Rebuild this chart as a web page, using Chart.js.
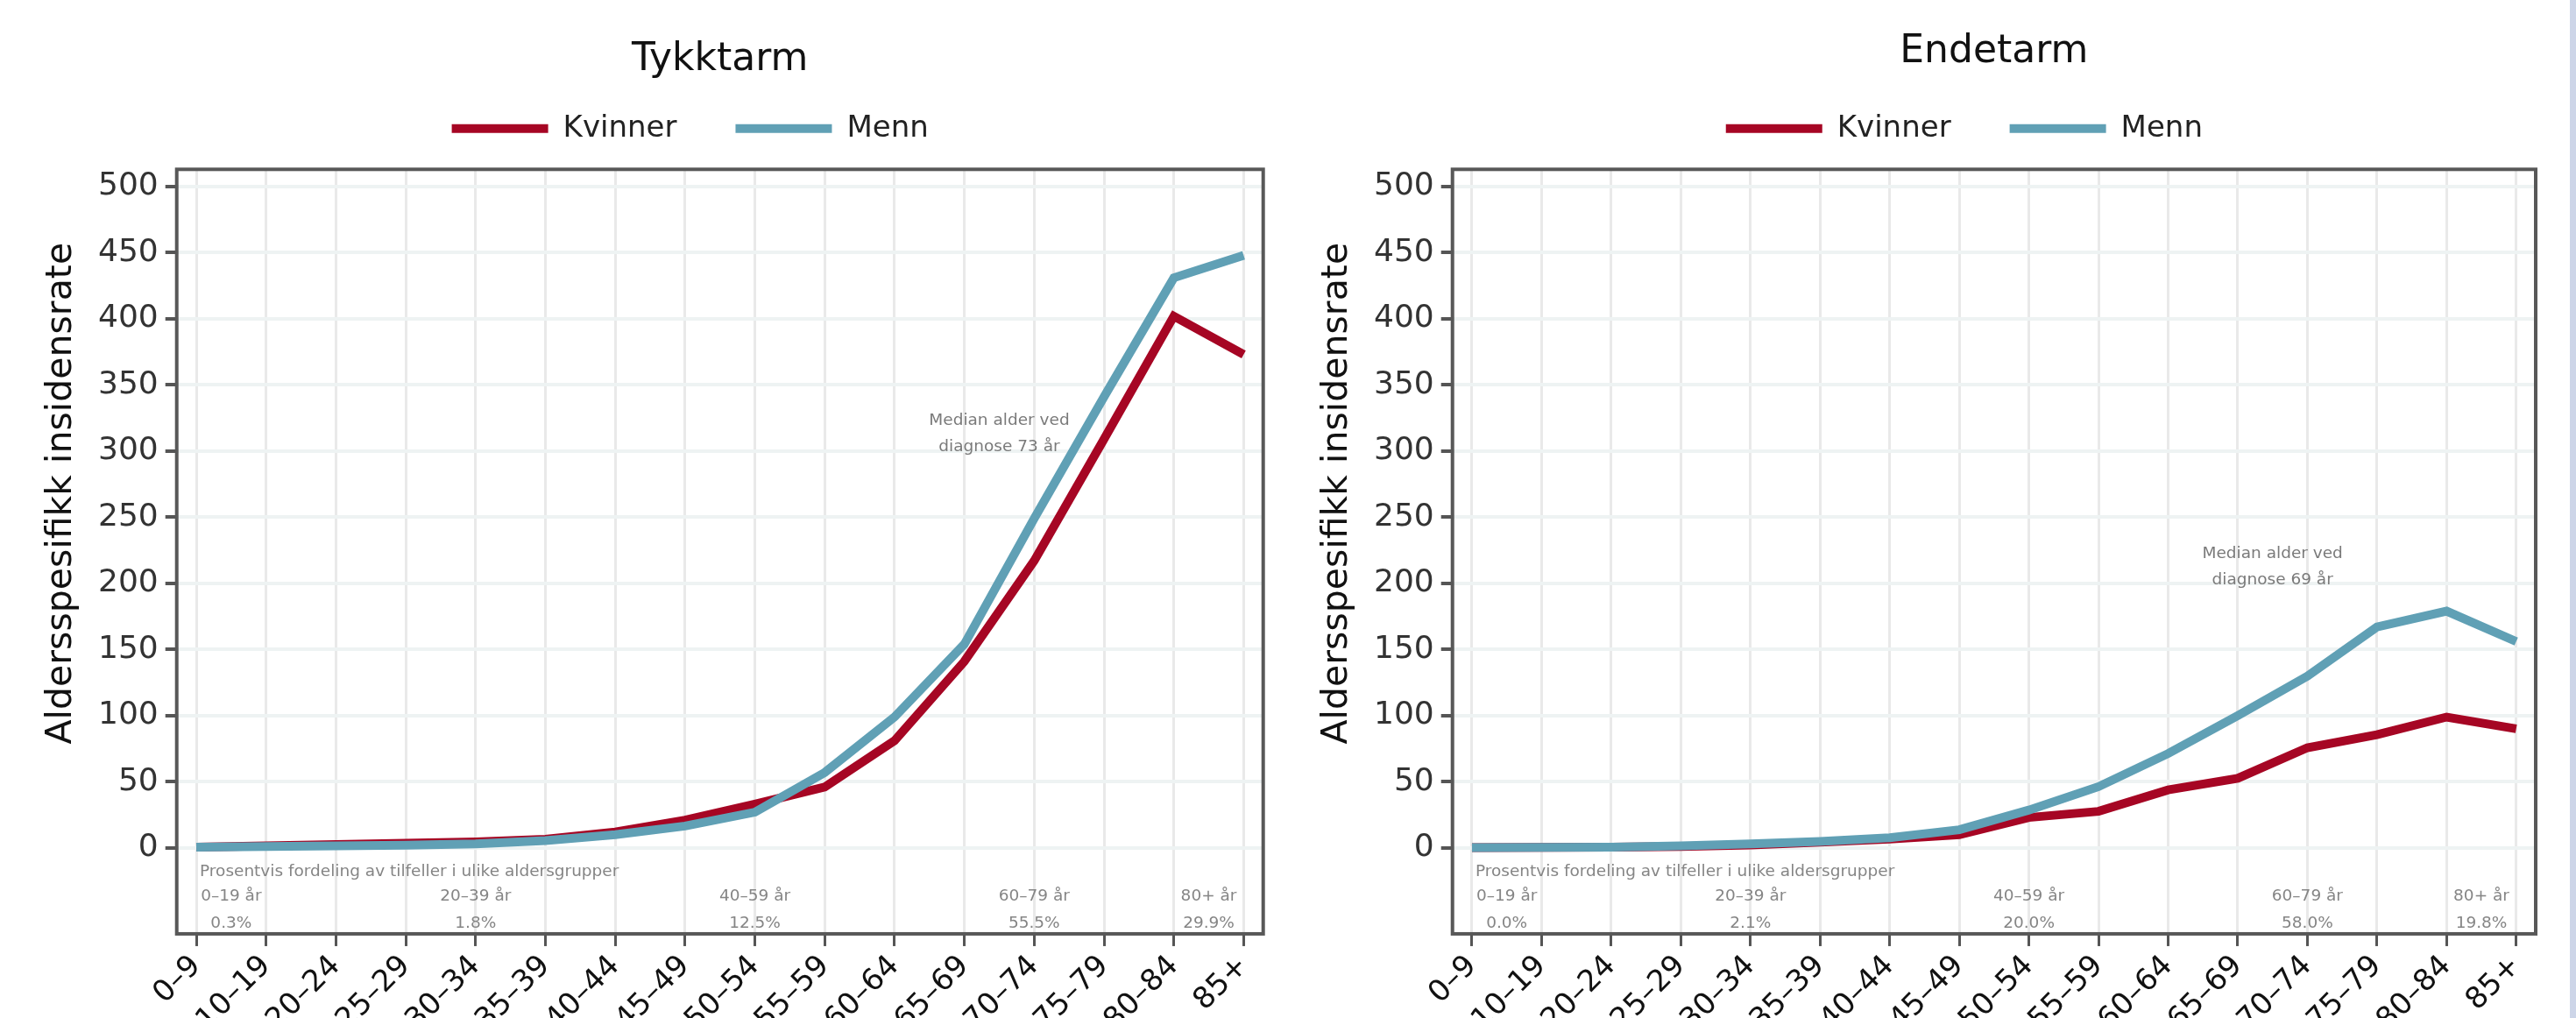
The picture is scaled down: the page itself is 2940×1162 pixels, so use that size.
<!DOCTYPE html>
<html>
<head>
<meta charset="utf-8">
<script src="https://cdn.jsdelivr.net/npm/chart.js@4.4.1/dist/chart.umd.min.js"></script>
<style>
  html, body { margin: 0; padding: 0; background: #fff; overflow: hidden; }
  body { width: 2940px; height: 1162px; position: relative; }
  canvas { position: absolute; top: 0; }
  #chart-colon { left: 0; }
  #chart-rectum { left: 1456px; }
  .edge { position: absolute; left: 2933px; top: 0; width: 7px; height: 1162px; background: #cdd5e8; }
</style>
</head>
<body>
<canvas id="chart-colon" width="1456" height="1188"></canvas>
<canvas id="chart-rectum" width="1456" height="1188"></canvas>
<div class="edge"></div>
<script>
const ageGroups = ["0\u20139", "10\u201319", "20\u201324", "25\u201329", "30\u201334", "35\u201339", "40\u201344", "45\u201349",
    "50\u201354", "55\u201359", "60\u201364", "65\u201369", "70\u201374", "75\u201379", "80\u201384", "85+"];
const yTicks = [0, 50, 100, 150, 200, 250, 300, 350, 400, 450, 500];

const colonWomen = [0.5, 1.5, 2.5, 3.5, 4.5, 6.5, 12, 21, 33, 46, 81, 141, 217, 309, 402, 373];
const colonMen = [0.5, 1, 1.5, 2, 3, 5.5, 10, 16.5, 27, 57, 99, 154, 249, 341, 431, 448];
const rectumWomen = [0.2, 0.3, 0.5, 1, 2.2, 4.4, 6.6, 9.9, 23, 27.6, 43.8, 52.6, 75.7, 85.6, 98.9, 90];
const rectumMen = [0.2, 0.3, 0.5, 1.5, 3, 4.8, 7.7, 13.7, 28.6, 46.3, 71.3, 100, 129.8, 167, 179, 156];

const shareHeading = "Prosentvis fordeling av tilfeller i ulike aldersgrupper";
const shareGroups = ["0\u201319 år", "20\u201339 år", "40\u201359 år", "60\u201379 år", "80+ år"];
const colonShare = ["0.3%", "1.8%", "12.5%", "55.5%", "29.9%"];
const rectumShare = ["0.0%", "2.1%", "20.0%", "58.0%", "19.8%"];
const colonMedian = ["Median alder ved", "diagnose 73 år"];
const rectumMedian = ["Median alder ved", "diagnose 69 år"];

const yTitle = "Aldersspesifikk insidensrate";
const RED = "#a60624";
const BLUE = "#60a0b5";
const FONT = '"DejaVu Sans", Verdana, sans-serif';

Chart.defaults.font.family = FONT;

// frame, y title, legend nudge and the grey notes inside the plot
const decor = {
    id: "decor",
    afterLayout(chart, args, opts) {
        const lg = chart.legend;
        lg.left += opts.legendDx; lg.right += opts.legendDx;
        lg.top += opts.legendDy; lg.bottom += opts.legendDy;
    },
    beforeDatasetsDraw(chart) {
        const {ctx, chartArea: a} = chart;
        ctx.save();
        ctx.strokeStyle = "#585858";
        ctx.lineWidth = 4;
        ctx.strokeRect(a.left, a.top, a.right - a.left, a.bottom - a.top);
        ctx.restore();
    },
    afterDatasetsDraw(chart, args, opts) {
        const {ctx, scales: {x, y}} = chart;
        ctx.save();
        ctx.fillStyle = "#858585";
        ctx.font = "18.5px " + FONT;
        ctx.textBaseline = "middle";
        ctx.textAlign = "left";
        ctx.fillText(shareHeading, x.getPixelForValue(0) + 4, y.getPixelForValue(-18));
        ctx.textAlign = "center";
        const at = [0.5, 4, 8, 12, 14.5];
        shareGroups.forEach((g, i) => {
            const px = x.getPixelForValue(at[i]);
            ctx.fillText(g, px, y.getPixelForValue(-36.5));
            ctx.fillText(opts.shares[i], px, y.getPixelForValue(-57));
        });
        ctx.fillStyle = "#7a7a7a";
        const mx = x.getPixelForValue(11.5);
        const my = y.getPixelForValue(opts.medianY);
        opts.median.forEach((line, i) => ctx.fillText(line, mx, my + i * 30.5));
        ctx.restore();
    },
    afterDraw(chart) {
        const {ctx, chartArea: a, scales: {y}} = chart;
        ctx.save();
        ctx.translate(a.left - 131, y.getPixelForValue(268));
        ctx.rotate(-Math.PI / 2);
        ctx.font = "41px " + FONT;
        ctx.fillStyle = "#111";
        ctx.textAlign = "center";
        ctx.textBaseline = "middle";
        ctx.fillText(yTitle, 0, 0);
        ctx.restore();
    }
};

function series(values) {
    return values.map((v, i) => ({x: i, y: v}));
}

function makeChart(id, title, women, men, shares, median, medianY, titlePad, padRight) {
    const config = {
        type: "line",
        data: {
            datasets: [
                {
                    label: "Kvinner",
                    data: series(women),
                    borderColor: RED,
                    backgroundColor: RED,
                    borderWidth: 10,
                    pointRadius: 0,
                    pointStyle: "line",
                    tension: 0,
                    order: 1,
                },
                {
                    label: "Menn",
                    data: series(men),
                    borderColor: BLUE,
                    backgroundColor: BLUE,
                    borderWidth: 10,
                    pointRadius: 0,
                    pointStyle: "line",
                    tension: 0,
                    order: 0,
                },
            ],
        },
        options: {
            responsive: false,
            animation: false,
            devicePixelRatio: 1,
            events: [],
            layout: {padding: {left: 104, right: padRight, top: 0, bottom: 0}},
            scales: {
                x: {
                    type: "linear",
                    min: -0.28,
                    max: 15.28,
                    afterBuildTicks: s => { s.ticks = ageGroups.map((_, i) => ({value: i})); },
                    ticks: {
                        autoSkip: false,
                        minRotation: 45,
                        maxRotation: 45,
                        padding: 3,
                        color: "#111",
                        font: {size: 34},
                        callback: v => ageGroups[v],
                    },
                    grid: {color: "#e9e9e9", lineWidth: 3, tickLength: 14, tickColor: "#555", tickWidth: 3},
                    border: {display: false},
                },
                y: {
                    type: "linear",
                    min: -65,
                    max: 513,
                    afterBuildTicks: s => { s.ticks = yTicks.map(v => ({value: v})); },
                    ticks: {padding: 8, color: "#333", font: {size: 36}},
                    grid: {color: "#eef3f3", lineWidth: 4, tickLength: 13, tickColor: "#555", tickWidth: 4},
                    border: {display: false},
                },
            },
            plugins: {
                title: {
                    display: true,
                    text: title,
                    fullSize: false,
                    color: "#111",
                    font: {size: 44, weight: "normal"},
                    padding: titlePad,
                },
                legend: {
                    display: true,
                    fullSize: false,
                    labels: {
                        usePointStyle: true,
                        pointStyleWidth: 110,
                        color: "#222",
                        font: {size: 34},
                        padding: 67,
                        sort: (a, b) => a.datasetIndex - b.datasetIndex,
                    },
                },
                tooltip: {enabled: false},
                decor: {legendDx: -34, legendDy: -19.6, shares: shares, median: median, medianY: medianY},
            },
        },
        plugins: [decor],
    };
    return new Chart(document.getElementById(id), config);
}

const chartColon = makeChart("chart-colon", "Tykktarm", colonWomen, colonMen, colonShare,
    colonMedian, 323, {top: 42.6, bottom: -13.1}, 14.3);
const chartRectum = makeChart("chart-rectum", "Endetarm", rectumWomen, rectumMen, rectumShare,
    rectumMedian, 222.5, {top: 33.6, bottom: -4.1}, 18);
</script>
</body>
</html>
